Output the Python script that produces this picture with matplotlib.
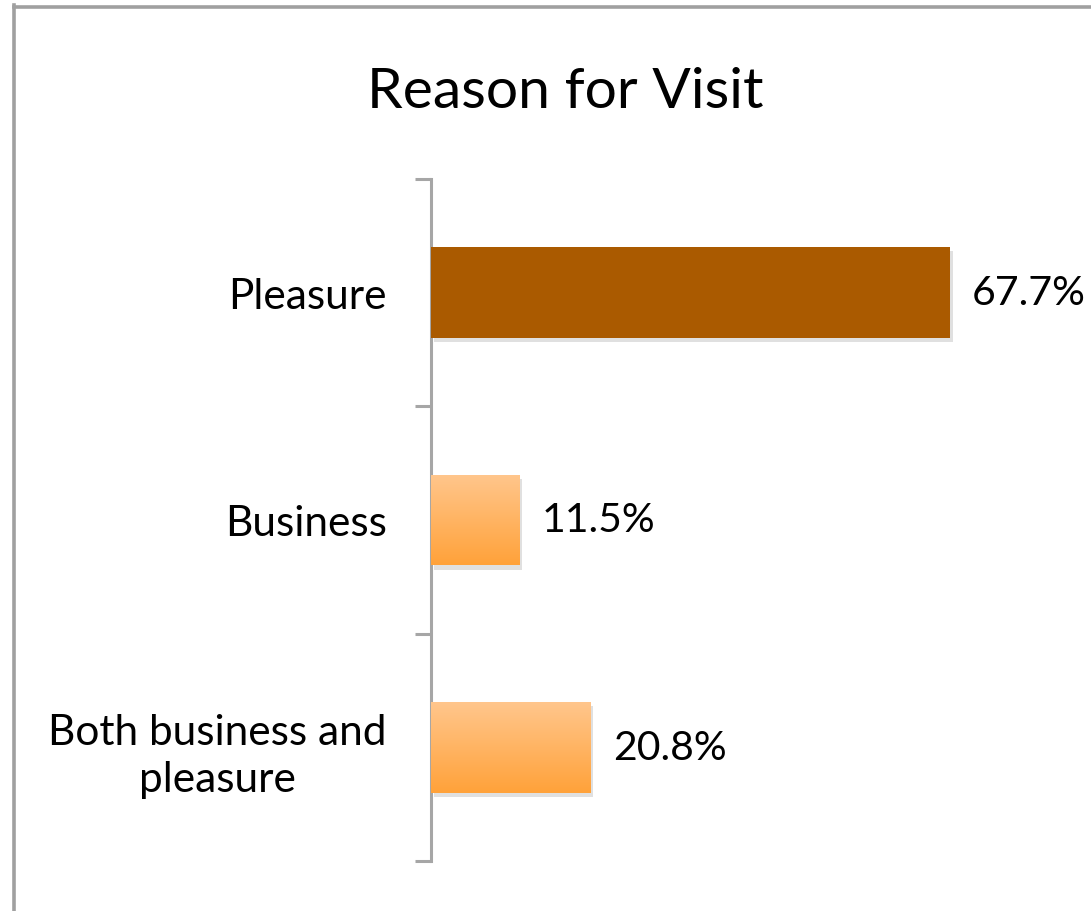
import matplotlib
matplotlib.use("Agg")
import matplotlib.pyplot as plt
import numpy as np
from matplotlib import patheffects as pe
from matplotlib.colors import LinearSegmentedColormap

categories = ["Pleasure", "Business", "Both business and\npleasure"]
values = [67.7, 11.5, 20.8]
value_labels = ["67.7%", "11.5%", "20.8%"]
title = "Reason for Visit"

plt.rcParams['font.family'] = ['Lato', 'DejaVu Sans']

W, H = 1091, 912
fig = plt.figure(figsize=(W / 100, H / 100), dpi=100)
fig.patch.set_facecolor("white")

# frame border (top and left visible)
border_col = "#A0A0A0"
fig.add_artist(plt.Line2D([13.5 / W, 13.5 / W], [0, 1 - 6 / H], transform=fig.transFigure,
                          color=border_col, lw=2.6, solid_capstyle="projecting"))
fig.add_artist(plt.Line2D([13.5 / W, 1], [1 - 7.5 / H, 1 - 7.5 / H], transform=fig.transFigure,
                          color=border_col, lw=2.6, solid_capstyle="projecting"))

ax_left, ax_right = 431 / W, 1090 / W
ax_top, ax_bot = 1 - 180 / H, 1 - 862 / H
ax = fig.add_axes([ax_left, ax_bot, ax_right - ax_left, ax_top - ax_bot])
px_per_unit = (951 - 432) / 67.7
xmax = (1090 - 431) / px_per_unit

y = np.arange(len(categories))
bar_h = 0.4
bars = ax.barh(y, values, height=bar_h, color="#AA5A00", zorder=3)

shadow = [pe.SimplePatchShadow(offset=(2, -3), shadow_rgbFace="#999999", alpha=0.3), pe.Normal()]
grad = LinearSegmentedColormap.from_list("g", ["#FFC68C", "#FFA23A"])
for i, b in enumerate(bars):
    b.set_path_effects(shadow)
    if i > 0:
        b.set_facecolor("#FFB05E")
        x0, y0 = b.get_x(), b.get_y()
        w, h = b.get_width(), b.get_height()
        img = np.linspace(0, 1, 100).reshape(-1, 1)
        im = ax.imshow(img, cmap=grad, aspect="auto", extent=(x0, x0 + w, y0 + h, y0),
                       origin="upper", zorder=4, interpolation="bilinear")
        im.set_clip_path(b)

ax.set_xlim(0, xmax)
ax.set_ylim(len(categories) - 0.5, -0.5)

for i, v in enumerate(values):
    ax.annotate(value_labels[i], xy=(v, i), xytext=(16, 0), textcoords="offset points",
                va="center", ha="left", fontsize=29.5, color="black")

for s in ["top", "right", "bottom"]:
    ax.spines[s].set_visible(False)
ax.spines["left"].set_color("#A6A6A6")
ax.spines["left"].set_linewidth(2.2)
ax.set_xticks([])
ax.set_yticks([-0.5, 0.5, 1.5, 2.5])
ax.set_yticklabels([])
ax.set_yticks(y, minor=True)
ax.set_yticklabels(categories, minor=True, fontsize=30.5, multialignment="center")
ax.tick_params(axis="y", which="major", length=11.5, width=2.2, color="#A6A6A6")
ax.tick_params(axis="y", which="minor", length=0, pad=32)
for lab in ax.get_yticklabels(minor=True):
    lab.set_linespacing(1.3)

fig.text(565 / W, 1 - 93 / H, title, ha="center", va="center", fontsize=41, color="black")

fig.savefig("out.png", dpi=100, facecolor="white")
